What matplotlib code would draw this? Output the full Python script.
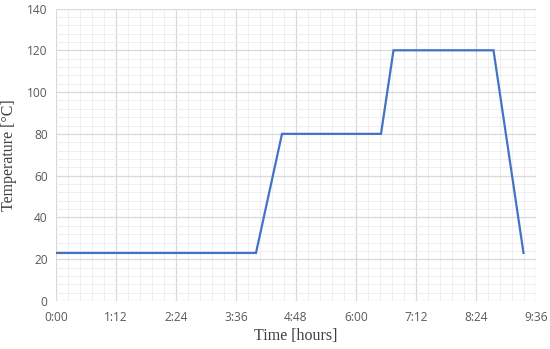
import matplotlib

matplotlib.use("Agg")
import matplotlib.pyplot as plt
from matplotlib.ticker import FuncFormatter, MultipleLocator

# time in hours, temperature in degC
time_h = [0.0, 4.0, 4.52, 6.5, 6.75, 8.75, 9.35]
temp_c = [23, 23, 80, 80, 120, 120, 23]


def hmm(x, pos):
    total = int(round(x * 60))
    return f"{total // 60}:{total % 60:02d}"


fig = plt.figure(figsize=(5.5, 3.49), dpi=100)
ax = fig.add_axes([56 / 550, 1 - 301 / 349, 480 / 550, 292.5 / 349])

ax.plot(time_h, temp_c, color="#4472C4", lw=1.6, solid_joinstyle="miter", zorder=3)

ax.set_xlim(0, 9.6)
ax.set_ylim(0, 140)
ax.xaxis.set_major_locator(MultipleLocator(1.2))
ax.xaxis.set_minor_locator(MultipleLocator(0.24))
ax.yaxis.set_major_locator(MultipleLocator(20))
ax.yaxis.set_minor_locator(MultipleLocator(4))
ax.xaxis.set_major_formatter(FuncFormatter(hmm))

ax.grid(which="major", color="#D9D9D9", lw=0.9)
ax.grid(which="minor", color="#EDEDED", lw=0.6)
ax.set_axisbelow(True)
for s in ax.spines.values():
    s.set_visible(False)

ax.tick_params(which="both", length=0)
ax.tick_params(axis="x", pad=7)
ax.tick_params(axis="y", pad=6)
for lab in ax.get_xticklabels() + ax.get_yticklabels():
    lab.set_fontfamily("Open Sans")
    lab.set_fontsize(8.6)
    lab.set_color("#595959")

ax.set_xlabel("Time [hours]", family="Liberation Serif", fontsize=11.5, color="#404040", labelpad=3)
ax.set_ylabel("Temperature [°C]", family="Liberation Serif", fontsize=11.5, color="#404040", labelpad=7)

fig.savefig("out.png", dpi=100)
